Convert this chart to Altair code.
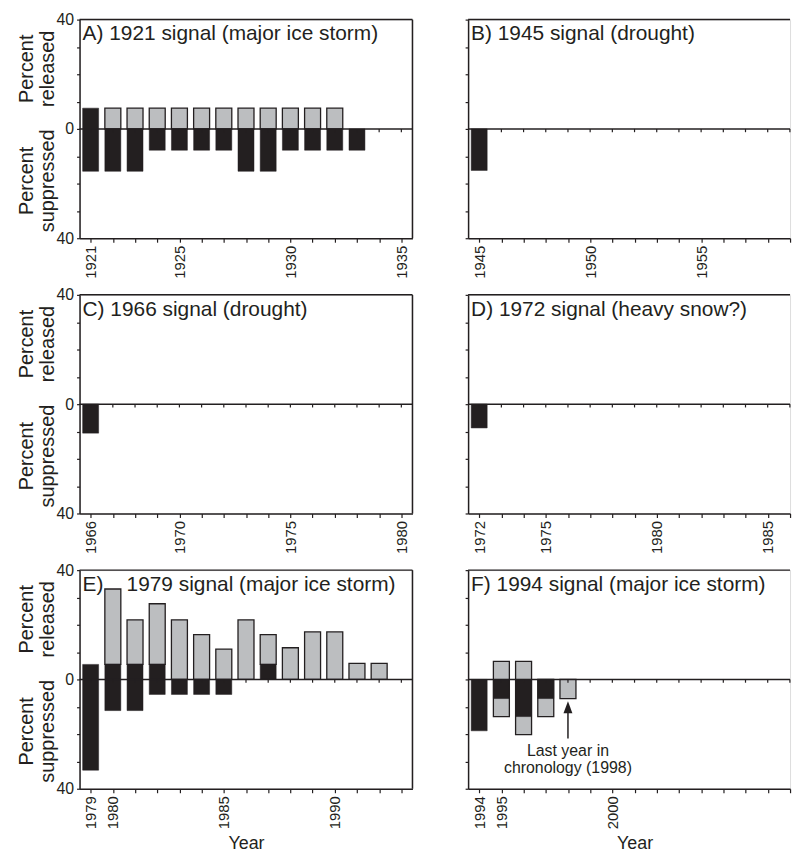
import math
import json
import altair as alt
import pandas as pd

FONT = "Liberation Sans"
INK = "#231f20"
GRAY = "#bcbec0"

# ---------------- data (percent of trees) ----------------
# Panel A: 1921 signal
A_YEARS = [1921, 1922, 1923, 1924, 1925, 1926, 1927, 1928, 1929, 1930, 1931, 1932, 1933]
A_GRAY_LO = [None, 0, 0, 0, 0, 0, 0, 0, 0, 0, 0, 0, None]
A_GRAY_HI = [None, 7.6, 7.6, 7.6, 7.6, 7.6, 7.6, 7.6, 7.6, 7.6, 7.6, 7.6, None]
A_BLACK_LO = [-15.5, -15.5, -15.5, -7.8, -7.8, -7.8, -7.8, -15.5, -15.5, -7.8, -7.8, -7.8, -7.8]
A_BLACK_HI = [7.6, 0, 0, 0, 0, 0, 0, 0, 0, 0, 0, 0, 0]

# Panel B: 1945 signal
B_YEARS = [1945]
B_GRAY_LO = [None]
B_GRAY_HI = [None]
B_BLACK_LO = [-15.2]
B_BLACK_HI = [0]

# Panel C: 1966 signal
C_YEARS = [1966]
C_GRAY_LO = [None]
C_GRAY_HI = [None]
C_BLACK_LO = [-10.6]
C_BLACK_HI = [0]

# Panel D: 1972 signal
D_YEARS = [1972]
D_GRAY_LO = [None]
D_GRAY_HI = [None]
D_BLACK_LO = [-8.7]
D_BLACK_HI = [0]

# Panel E: 1979 signal
E_YEARS = [1979, 1980, 1981, 1982, 1983, 1984, 1985, 1986, 1987, 1988, 1989, 1990, 1991, 1992]
E_GRAY_LO = [None, 5.5, 5.5, 5.5, 0, 0, 0, 0, 5.5, 0, 0, 0, 0, 0]
E_GRAY_HI = [None, 33.1, 21.8, 27.7, 21.8, 16.4, 11.1, 21.8, 16.4, 11.6, 17.4, 17.4, 5.9, 5.9]
E_BLACK_LO = [-33.2, -11.4, -11.4, -5.5, -5.5, -5.5, -5.5, None, 0, None, None, None, None, None]
E_BLACK_HI = [5.5, 5.5, 5.5, 5.5, 0, 0, 0, None, 5.5, None, None, None, None, None]

# Panel F: 1994 signal
F_YEARS = [1994, 1995, 1996, 1997, 1998]
F_GRAY_LO = [None, -13.6, -20.2, -13.6, -7.0]
F_GRAY_HI = [None, 6.6, 6.6, 0, 0]
F_BLACK_LO = [-18.8, -7.0, -13.6, -7.0, None]
F_BLACK_HI = [0, 0, 0, 0, None]

# ---------------- layout ----------------
PX_PER_YEAR = 335 / 15.0
H = 220
HALF_BAR = 0.36


def segs(years, lo, hi):
    rows = [{"year": y, "lo": a, "hi": b} for y, a, b in zip(years, lo, hi)
            if a is not None and b is not None]
    return pd.DataFrame(rows, columns=["year", "lo", "hi"])


def panel(tag, years, glo, ghi, blo, bhi, x_lo, width, label_years, left,
          xtitle=None, title_x=None, note=False):
    x_hi = x_lo + width / PX_PER_YEAR
    xs = alt.Scale(domain=[x_lo, x_hi], nice=False, zero=False)
    ys = alt.Scale(domain=[-40, 40], nice=False, zero=False)
    tick_years = list(range(math.ceil(x_lo), math.floor(x_hi + 1e-6) + 1))

    xkw = dict(
        values=tick_years, format="d",
        labelExpr="indexof(%s, datum.value) >= 0 ? datum.label : ''" % json.dumps(label_years),
        labelAngle=270, labelFontSize=15, labelFont=FONT, labelColor=INK,
        labelPadding=3, labelOverlap=False, labelFlush=False,
        tickSize=4, tickColor=INK, tickWidth=1.2,
        domainColor=INK, domainWidth=1.5, grid=False,
        title=xtitle,
        titleFont=FONT, titleFontSize=18, titleFontWeight="normal", titleColor=INK,
        titlePadding=6,
    )
    if title_x is not None:
        xkw["titleX"] = title_x
    xaxis = alt.Axis(**xkw)
    yaxis = alt.Axis(
        values=list(range(-40, 41, 10)),
        labelExpr="datum.value == 0 ? '0' : (abs(datum.value) == 40 ? '40' : '')",
        labels=left, labelFontSize=16, labelFont=FONT, labelColor=INK, labelPadding=3,
        tickSize=3, tickColor=INK, tickWidth=1.2,
        domainColor=INK, domainWidth=1.5, grid=False, title=None,
    )

    def X(f):
        return alt.X(f, scale=xs, axis=xaxis)

    def Y(f):
        return alt.Y(f, scale=ys, axis=yaxis)

    layers = []

    gdf = segs(years, glo, ghi)
    bdf = segs(years, blo, bhi)
    if len(gdf):
        layers.append(
            alt.Chart(gdf).transform_calculate(
                x0="datum.year - %f" % HALF_BAR, x1="datum.year + %f" % HALF_BAR
            ).mark_bar(fill=GRAY, stroke=INK, strokeWidth=1.3).encode(
                x=X("x0:Q"), x2="x1:Q", y=Y("lo:Q"), y2="hi:Q"
            )
        )
    layers.append(
        alt.Chart(bdf).transform_calculate(
            x0="datum.year - %f" % HALF_BAR, x1="datum.year + %f" % HALF_BAR
        ).mark_bar(fill=INK, stroke=INK, strokeWidth=0.5).encode(
            x=X("x0:Q"), x2="x1:Q", y=Y("lo:Q"), y2="hi:Q"
        )
    )

    # zero line
    layers.append(
        alt.Chart(pd.DataFrame({"a": [x_lo], "b": [x_hi], "z": [0]}))
        .mark_rule(color=INK, strokeWidth=1.5)
        .encode(x=X("a:Q"), x2="b:Q", y=Y("z:Q"))
    )
    # year ticks hanging under the zero line
    layers.append(
        alt.Chart(pd.DataFrame({"year": tick_years}))
        .transform_calculate(z0="0", z1="-1.2")
        .mark_rule(color=INK, strokeWidth=1.2)
        .encode(x=X("year:Q"), y=Y("z0:Q"), y2="z1:Q")
    )
    # top border
    layers.append(
        alt.Chart(pd.DataFrame({"a": [x_lo], "b": [x_hi], "z": [40]}))
        .mark_rule(color=INK, strokeWidth=1.5)
        .encode(x=X("a:Q"), x2="b:Q", y=Y("z:Q"))
    )
    if left:
        # right border
        layers.append(
            alt.Chart(pd.DataFrame({"a": [x_hi], "z0": [-40], "z1": [40]}))
            .mark_rule(color=INK, strokeWidth=1.5)
            .encode(x=X("a:Q"), y=Y("z0:Q"), y2="z1:Q")
        )
        ylab = pd.DataFrame({"t": ["Percent\nreleased", "Percent\nsuppressed"],
                             "yv": [22, -19]})
        layers.append(
            alt.Chart(ylab).mark_text(angle=270, lineBreak="\n", align="center",
                                      baseline="middle", fontSize=20, lineHeight=21,
                                      font=FONT, color=INK)
            .encode(x=alt.value(-53), y=Y("yv:Q"), text="t:N")
        )

    layers.append(
        alt.Chart(pd.DataFrame({"t": [tag]}))
        .mark_text(align="left", baseline="top", fontSize=21, font=FONT, color=INK)
        .encode(x=alt.value(3), y=alt.value(4), text="t:N")
    )

    if note:
        layers.append(
            alt.Chart(pd.DataFrame({"year": [1998], "a": [-21.6], "b": [-11.5]}))
            .mark_rule(color=INK, strokeWidth=1.5)
            .encode(x=X("year:Q"), y=Y("a:Q"), y2="b:Q")
        )
        layers.append(
            alt.Chart(pd.DataFrame({"year": [1998], "v": [-10.2]}))
            .mark_point(shape="M0,-1L0.75,1L-0.75,1Z", filled=True, size=144,
                        color=INK, opacity=1)
            .encode(x=X("year:Q"), y=Y("v:Q"))
        )
        layers.append(
            alt.Chart(pd.DataFrame({"year": [1998], "v": [-26.2],
                                    "t": ["Last year in\nchronology (1998)"]}))
            .mark_text(lineBreak="\n", align="center", baseline="middle",
                       fontSize=16, lineHeight=17, font=FONT, color=INK)
            .encode(x=X("year:Q"), y=Y("v:Q"), text="t:N")
        )

    return alt.layer(*layers).properties(width=width, height=H)


LW = 335
RW = 324

pA = panel("A) 1921 signal (major ice storm)", A_YEARS, A_GRAY_LO, A_GRAY_HI,
           A_BLACK_LO, A_BLACK_HI, 1920.5, LW, [1921, 1925, 1930, 1935], True)
pB = panel("B) 1945 signal (drought)", B_YEARS, B_GRAY_LO, B_GRAY_HI,
           B_BLACK_LO, B_BLACK_HI, 1944.5, RW, [1945, 1950, 1955], False)
pC = panel("C) 1966 signal (drought)", C_YEARS, C_GRAY_LO, C_GRAY_HI,
           C_BLACK_LO, C_BLACK_HI, 1965.5, LW, [1966, 1970, 1975, 1980], True)
pD = panel("D) 1972 signal (heavy snow?)", D_YEARS, D_GRAY_LO, D_GRAY_HI,
           D_BLACK_LO, D_BLACK_HI, 1971.5, RW, [1972, 1975, 1980, 1985], False)
pE = panel("E)\u00a0\u00a0\u00a0 1979 signal (major ice storm)", E_YEARS, E_GRAY_LO, E_GRAY_HI,
           E_BLACK_LO, E_BLACK_HI, 1978.5, LW, [1979, 1980, 1985, 1990], True,
           xtitle="Year")
pF = panel("F) 1994 signal (major ice storm)", F_YEARS, F_GRAY_LO, F_GRAY_HI,
           F_BLACK_LO, F_BLACK_HI, 1993.5, RW, [1994, 1995, 2000], False,
           xtitle="Year", title_x=167.5, note=True)

chart = alt.concat(
    pA, pB, pC, pD, pE, pF,
    columns=2, spacing={"row": 57, "column": 56}, bounds="flush",
).properties(
    padding={"left": 8, "top": 0, "right": 0, "bottom": 0}
).configure_view(stroke=None).configure(font=FONT)

chart.save("out.html", embed_options={"renderer": "svg", "actions": False})
